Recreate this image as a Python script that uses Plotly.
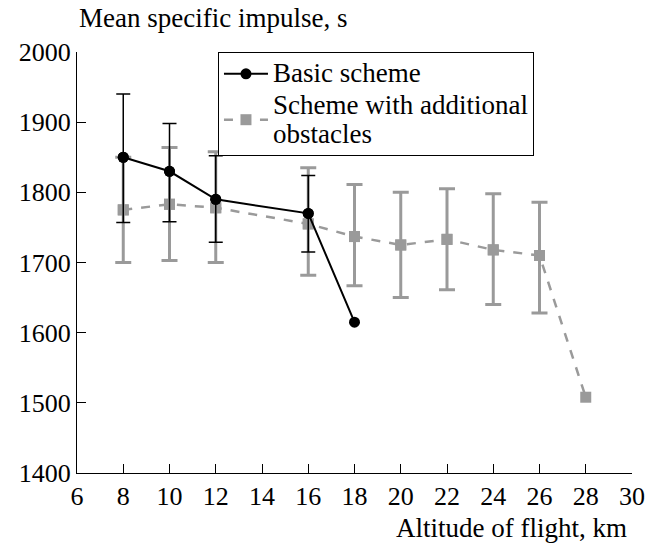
import plotly.graph_objects as go

altitude_basic = [8, 10, 12, 16, 18]
impulse_basic = [1850, 1830, 1790, 1770, 1615]
# error bars are given for the first four points only
err_basic_plus = [90, 68, 62, 54]
err_basic_minus = [93, 72, 61, 55]

altitude_obst = [8, 10, 12, 16, 18, 20, 22, 24, 26, 28]
impulse_obst = [1775, 1783, 1778, 1755, 1737, 1725, 1733, 1718, 1710, 1508]
# error bars are given for the first nine points only
err_obst_plus = [75, 81, 80, 80, 74, 75, 72, 80, 76]
err_obst_minus = [75, 80, 78, 73, 70, 75, 72, 78, 82]

x_ticks = [6, 8, 10, 12, 14, 16, 18, 20, 22, 24, 26, 28, 30]
y_ticks = [1400, 1500, 1600, 1700, 1800, 1900, 2000]

name_basic = ["Basic scheme"]
name_obst = ["Scheme with additional", "obstacles"]

FONT = "Liberation Serif"
FS = 26
FT = 27
GRAY = "#9a9a9a"

n_eb = len(err_basic_plus)
n_eo = len(err_obst_plus)


def big(lines):
    return "<br>".join('<span style="font-size:%gpx">%s</span>' % (FT, t) for t in lines)


fig = go.Figure()
# gray error bars
fig.add_trace(go.Scatter(
    x=altitude_obst[:n_eo], y=impulse_obst[:n_eo], mode="markers",
    showlegend=False, hoverinfo="skip",
    marker=dict(symbol="square", size=11, color=GRAY),
    error_y=dict(type="data", symmetric=False, array=err_obst_plus,
                 arrayminus=err_obst_minus, color=GRAY, thickness=3, width=8),
))
fig.add_trace(go.Scatter(
    x=altitude_obst, y=impulse_obst, mode="lines+markers",
    name=big(name_obst),
    line=dict(color=GRAY, width=2.5, dash="dash"),
    marker=dict(symbol="square", size=11, color=GRAY),
))
# black error bars
fig.add_trace(go.Scatter(
    x=altitude_basic[:n_eb], y=impulse_basic[:n_eb], mode="markers",
    showlegend=False, hoverinfo="skip",
    marker=dict(symbol="circle", size=11, color="black"),
    error_y=dict(type="data", symmetric=False, array=err_basic_plus,
                 arrayminus=err_basic_minus, color="black", thickness=1.5, width=7),
))
fig.add_trace(go.Scatter(
    x=altitude_basic, y=impulse_basic, mode="lines+markers",
    name=big(name_basic),
    line=dict(color="black", width=2),
    marker=dict(symbol="circle", size=11, color="black"),
))

fig.update_layout(
    width=647, height=543,
    margin=dict(l=77, r=15, t=52, b=70),
    plot_bgcolor="white", paper_bgcolor="white",
    font=dict(family=FONT, size=FS, color="black"),
    showlegend=True,
    legend=dict(x=0.254, y=1.0, xanchor="left", yanchor="top",
                bordercolor="black", borderwidth=1, bgcolor="white",
                traceorder="reversed", font=dict(family=FONT, size=22),
                tracegroupgap=0, itemwidth=44),
    xaxis=dict(range=[6, 30], tickvals=x_ticks, ticks="inside", ticklen=9,
               tickcolor="black", showline=True, linecolor="black", linewidth=1.2,
               showgrid=False, zeroline=False, automargin=False,
               tickfont=dict(family=FONT, size=FS)),
    yaxis=dict(range=[1400, 2000], tickvals=y_ticks, ticks="inside", ticklen=9,
               tickcolor="black", showline=True, linecolor="black", linewidth=1.2,
               showgrid=False, zeroline=False, automargin=False,
               tickfont=dict(family=FONT, size=FS)),
    annotations=[
        dict(text="Mean specific impulse, s", xref="paper", yref="paper",
             x=0.0, y=1.0, xshift=0, yshift=17, xanchor="left", yanchor="bottom",
             showarrow=False, font=dict(family=FONT, size=FT)),
        dict(text="Altitude of flight, km", xref="paper", yref="paper",
             x=1.0, y=0, xshift=-3, yshift=-38, xanchor="right", yanchor="top",
             showarrow=False, font=dict(family=FONT, size=FT)),
    ],
)

fig.write_html("out.html")
